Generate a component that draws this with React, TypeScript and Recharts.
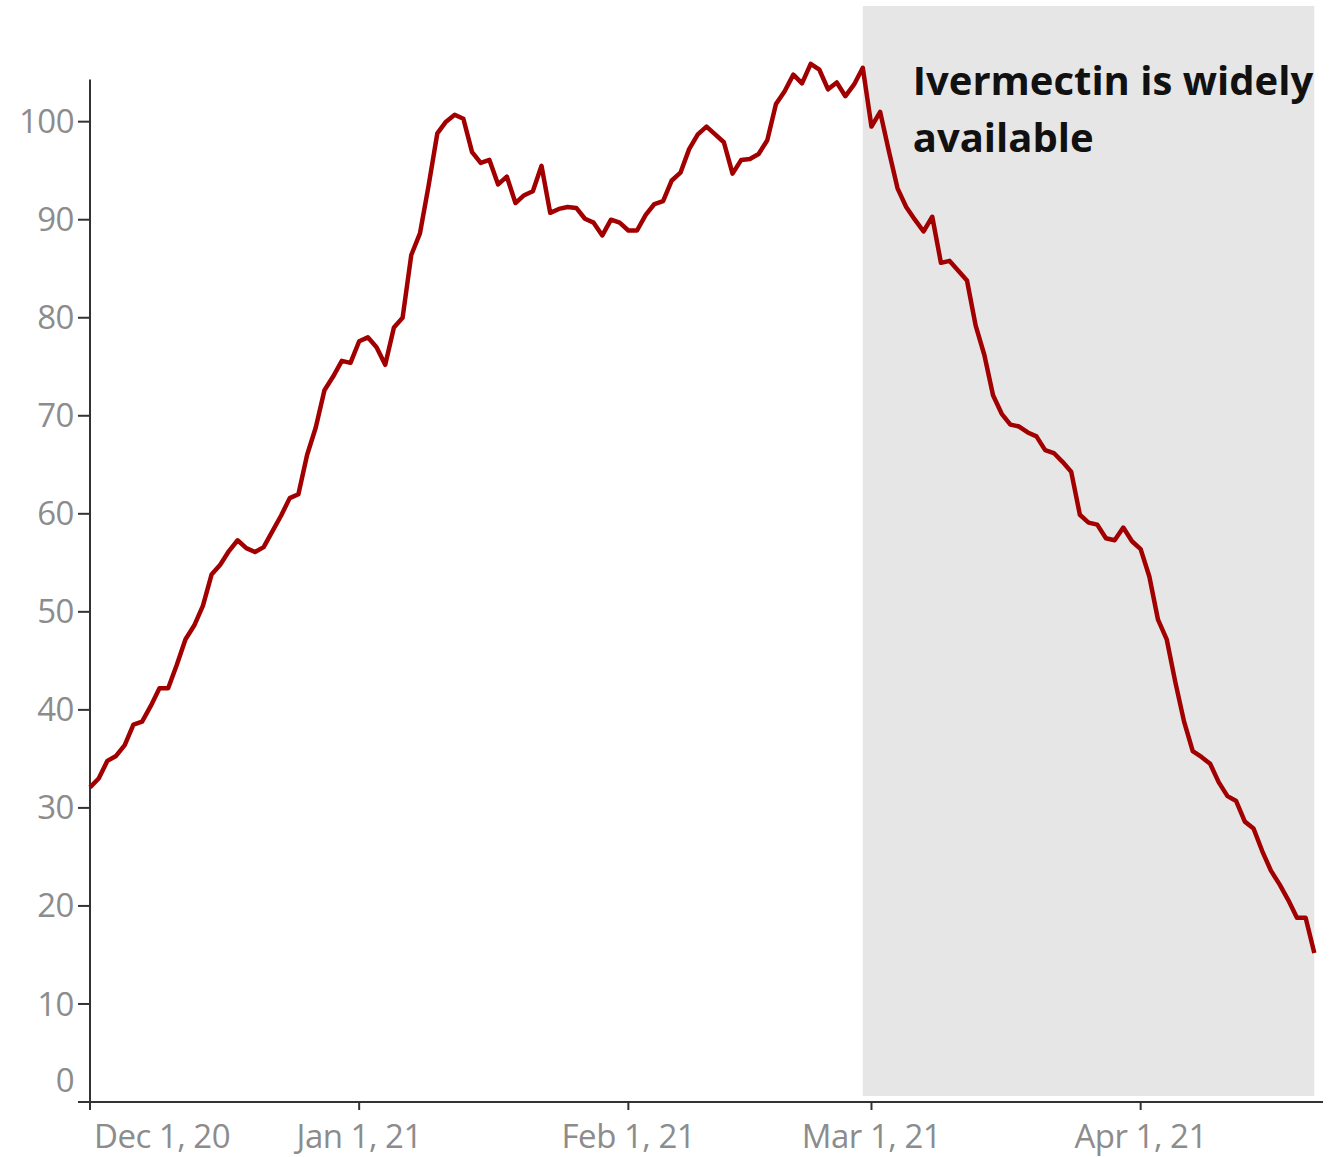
import {
  LineChart,
  Line,
  XAxis,
  YAxis,
  ReferenceArea,
  ReferenceLine,
} from "recharts";

// daily values, Dec 1 2020 (day 0) .. Apr 21 2021 (day 141)
const values = [
  32.1, 33.0, 34.8, 35.3, 36.4, 38.5, 38.8, 40.4, 42.2, 42.2,
  44.6, 47.2, 48.6, 50.6, 53.8, 54.8, 56.2, 57.3, 56.5, 56.1,
  56.6, 58.2, 59.8, 61.6, 62.0, 66.0, 68.8, 72.6, 74.0, 75.6,
  75.4, 77.6, 78.0, 77.0, 75.2, 79.0, 80.0, 86.4, 88.6, 93.5,
  98.8, 100.0, 100.7, 100.3, 96.9, 95.8, 96.1, 93.6, 94.4, 91.7,
  92.5, 92.9, 95.5, 90.7, 91.1, 91.3, 91.2, 90.1, 89.7, 88.4,
  90.0, 89.7, 88.9, 88.9, 90.5, 91.6, 91.9, 94.0, 94.8, 97.2,
  98.7, 99.5, 98.7, 97.9, 94.7, 96.1, 96.2, 96.7, 98.1, 101.8,
  103.1, 104.8, 103.9, 105.9, 105.3, 103.3, 104.0, 102.6, 103.8, 105.5,
  99.5, 101.0, 97.0, 93.2, 91.3, 90.0, 88.8, 90.3, 85.6, 85.8,
  84.8, 83.8, 79.2, 76.2, 72.1, 70.2, 69.1, 68.9, 68.3, 67.9,
  66.5, 66.2, 65.3, 64.3, 59.9, 59.1, 58.9, 57.5, 57.3, 58.6,
  57.2, 56.4, 53.6, 49.2, 47.2, 42.8, 38.8, 35.8, 35.2, 34.5,
  32.6, 31.2, 30.7, 28.6, 27.9, 25.6, 23.6, 22.2, 20.6, 18.8,
  18.8, 15.2,
];

const tickDays = [0, 31, 62, 90, 121];
const tickLabels = ["Dec 1, 20", "Jan 1, 21", "Feb 1, 21", "Mar 1, 21", "Apr 1, 21"];
const yTicks = [0, 10, 20, 30, 40, 50, 60, 70, 80, 90, 100];

const shadeStart = 89; // Feb 28
const shadeEnd = 141;
const annotation = ["Ivermectin is widely", "available"];

const data = values.map((v, i) => ({ day: i, value: v }));

const tickFont = "'Open Sans', 'DejaVu Sans', sans-serif";
const tickColor = "#8c8c8c";
const axisColor = "#333333";

function XTick(props: any) {
  const { x, y, payload, index } = props;
  const label = tickLabels[tickDays.indexOf(payload.value)];
  const first = index === 0;
  return (
    <text
      x={first ? x + 4 : x}
      y={y - 2}
      dy="0.71em"
      textAnchor={first ? "start" : "middle"}
      fill={tickColor}
      fontSize={33}
      fontFamily={tickFont}
      letterSpacing={-0.5}
    >
      {label}
    </text>
  );
}

function YTick(props: any) {
  const { x, y, payload } = props;
  return (
    <text
      x={x}
      y={payload.value === 0 ? y - 22 : y}
      dy="0.35em"
      textAnchor="end"
      fill={tickColor}
      fontSize={33}
      fontFamily={tickFont}
      letterSpacing={-0.5}
    >
      {payload.value}
    </text>
  );
}

function AnnotationLabel(props: any) {
  const { viewBox } = props;
  return (
    <text
      x={viewBox.x + 50}
      fontSize={40}
      fontWeight="bold"
      fontFamily="'Open Sans', sans-serif"
      fill="#111"
    >
      {annotation.map((line, i) => (
        <tspan key={line} x={viewBox.x + 50} y={95 + i * 57}>
          {line}
        </tspan>
      ))}
    </text>
  );
}

export default function App() {
  return (
    <div style={{ position: "absolute", left: 0, top: 0, background: "#fff" }}>
      <LineChart
        width={1337}
        height={1157}
        data={data}
        margin={{ top: 6, right: 14, bottom: 0, left: 0 }}
      >
        <ReferenceArea
          x1={shadeStart}
          x2={shadeEnd}
          y1={0.6}
          y2={111.8}
          fill="#e6e6e6"
          fillOpacity={1}
          stroke="none"
          ifOverflow="visible"
          label={<AnnotationLabel />}
        />
        <XAxis
          dataKey="day"
          type="number"
          domain={[0, 142]}
          ticks={tickDays}
          interval={0}
          tick={<XTick />}
          tickSize={8}
          tickMargin={17}
          height={55}
          axisLine={{ stroke: axisColor, strokeWidth: 2 }}
          tickLine={{ stroke: axisColor, strokeWidth: 2 }}
        />
        <YAxis
          type="number"
          domain={[0, 111.8]}
          ticks={yTicks}
          interval={0}
          width={90}
          tick={<YTick />}
          tickSize={12}
          tickMargin={4}
          axisLine={false}
          tickLine={{ stroke: axisColor, strokeWidth: 2 }}
        />
        <ReferenceLine
          segment={[
            { x: 0, y: 0 },
            { x: 0, y: 104.3 },
          ]}
          stroke={axisColor}
          strokeWidth={2}
          ifOverflow="visible"
        />
        <Line
          type="linear"
          dataKey="value"
          stroke="#a20000"
          strokeWidth={4.5}
          strokeLinejoin="round"
          dot={false}
          isAnimationActive={false}
        />
      </LineChart>
    </div>
  );
}
